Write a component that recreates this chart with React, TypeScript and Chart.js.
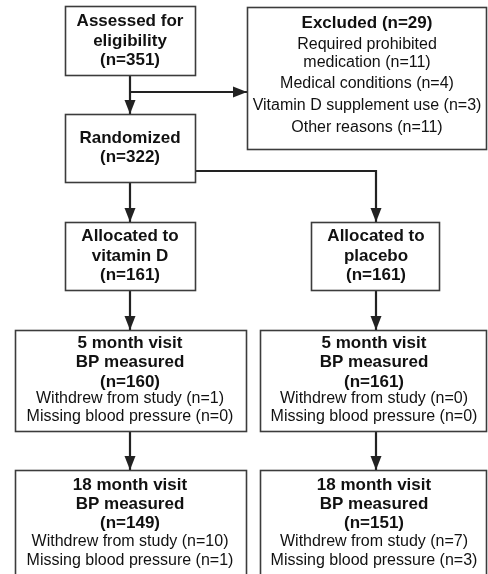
import { useEffect, useRef } from "react";
import { Chart, registerables } from "chart.js";
Chart.register(...registerables);

const W = 488;
const H = 574;

// Flow boxes (data coordinates of the diagram space)
const boxLeft = [65, 247, 65, 65, 311, 15, 260, 15, 260];
const boxRight = [196, 487, 196, 196, 440, 247, 487, 247, 487];
const boxTop = [6, 7, 114, 222, 222, 330, 330, 470, 470];
const boxBottom = [76, 150, 183, 291, 291, 432, 432, 585, 585];

const boxText: string[][] = [
  ["Assessed for", "eligibility", "(n=351)"],
  [
    "Excluded (n=29)",
    "Required prohibited",
    "medication (n=11)",
    "Medical conditions (n=4)",
    "Vitamin D supplement use (n=3)",
    "Other reasons (n=11)",
  ],
  ["Randomized", "(n=322)"],
  ["Allocated to", "vitamin D", "(n=161)"],
  ["Allocated to", "placebo", "(n=161)"],
  ["5 month visit", "BP measured", "(n=160)", "Withdrew from study (n=1)", "Missing blood pressure (n=0)"],
  ["5 month visit", "BP measured", "(n=161)", "Withdrew from study (n=0)", "Missing blood pressure (n=0)"],
  ["18 month visit", "BP measured", "(n=149)", "Withdrew from study (n=10)", "Missing blood pressure (n=1)"],
  ["18 month visit", "BP measured", "(n=151)", "Withdrew from study (n=7)", "Missing blood pressure (n=3)"],
];
const boxBoldCount = [3, 1, 2, 3, 3, 3, 3, 3, 3];
const textCenterX = [130, 367, 130, 130, 376, 130, 374, 130, 374];
const textLineY: number[][] = [
  [21, 41, 60],
  [23, 45, 63, 84, 106, 128],
  [138, 157],
  [236, 256, 275],
  [236, 256, 275],
  [343, 362, 382, 399, 417],
  [343, 362, 382, 399, 417],
  [485, 504, 523, 542, 561],
  [485, 504, 523, 542, 561],
];

// Connector arrows (polyline points; arrowhead at last point)
const connectorX: number[][] = [
  [130, 130],
  [130, 247],
  [196, 376, 376],
  [130, 130],
  [130, 130],
  [376, 376],
  [130, 130],
  [376, 376],
];
const connectorY: number[][] = [
  [76, 114],
  [92, 92],
  [171, 171, 222],
  [183, 222],
  [291, 330],
  [291, 330],
  [432, 470],
  [432, 470],
];

const LINE_COLOR = "#222222";
const BOX_COLOR = "#3c3c3c";
const TEXT_COLOR = "#111111";
const FONT = '"Liberation Sans", Arial, sans-serif';

const flowPlugin = {
  id: "flow",
  afterDatasetsDraw(chart: any) {
    const ctx = chart.ctx as CanvasRenderingContext2D;
    const xs = chart.scales.x;
    const ys = chart.scales.y;
    ctx.save();
    // boxes
    for (let i = 0; i < boxLeft.length; i++) {
      const x0 = xs.getPixelForValue(boxLeft[i]);
      const x1 = xs.getPixelForValue(boxRight[i]);
      const y0 = ys.getPixelForValue(boxTop[i]);
      const y1 = ys.getPixelForValue(boxBottom[i]);
      ctx.fillStyle = "#ffffff";
      ctx.fillRect(x0, y0, x1 - x0, y1 - y0);
      ctx.strokeStyle = BOX_COLOR;
      ctx.lineWidth = 1.6;
      ctx.strokeRect(x0 + 0.5, y0 + 0.5, x1 - x0 - 1, y1 - y0 - 1);
    }
    // arrowheads
    for (let c = 0; c < connectorX.length; c++) {
      const n = connectorX[c].length;
      const tx = xs.getPixelForValue(connectorX[c][n - 1]);
      const ty = ys.getPixelForValue(connectorY[c][n - 1]);
      const px = xs.getPixelForValue(connectorX[c][n - 2]);
      const py = ys.getPixelForValue(connectorY[c][n - 2]);
      const ang = Math.atan2(ty - py, tx - px);
      const len = 14;
      const half = 5.5;
      ctx.fillStyle = LINE_COLOR;
      ctx.beginPath();
      ctx.moveTo(tx, ty);
      ctx.lineTo(tx - len * Math.cos(ang) - half * Math.sin(ang), ty - len * Math.sin(ang) + half * Math.cos(ang));
      ctx.lineTo(tx - len * Math.cos(ang) + half * Math.sin(ang), ty - len * Math.sin(ang) - half * Math.cos(ang));
      ctx.closePath();
      ctx.fill();
    }
    // text
    ctx.fillStyle = TEXT_COLOR;
    ctx.textAlign = "center";
    ctx.textBaseline = "middle";
    for (let i = 0; i < boxText.length; i++) {
      const cx = xs.getPixelForValue(textCenterX[i]);
      boxText[i].forEach((line, j) => {
        const bold = j < boxBoldCount[i];
        ctx.font = bold ? `bold 17px ${FONT}` : `16px ${FONT}`;
        ctx.fillText(line, cx, ys.getPixelForValue(textLineY[i][j]));
      });
    }
    ctx.restore();
  },
};

export default function App() {
  const ref = useRef<HTMLCanvasElement | null>(null);
  useEffect(() => {
    if (!ref.current) return;
    const datasets = connectorX.map((xsArr, c) => ({
      data: xsArr.map((x, k) => ({ x, y: connectorY[c][k] })),
      showLine: true,
      borderColor: LINE_COLOR,
      borderWidth: 2.2,
      pointRadius: 0,
      fill: false,
      tension: 0,
      clip: false as any,
    }));
    const chart = new Chart(ref.current, {
      type: "scatter",
      data: { datasets },
      options: {
        animation: false,
        responsive: false,
        devicePixelRatio: 1,
        events: [],
        layout: { padding: 0 },
        plugins: { legend: { display: false }, tooltip: { enabled: false } },
        scales: {
          x: { type: "linear", min: 0, max: W, display: false },
          y: { type: "linear", min: 0, max: H, reverse: true, display: false },
        },
      },
      plugins: [flowPlugin],
    });
    return () => chart.destroy();
  }, []);
  return (
    <div style={{ position: "absolute", left: 0, top: 0, width: W, height: H, background: "#fff" }}>
      <canvas ref={ref} width={W} height={H} style={{ display: "block", width: W, height: H }} />
    </div>
  );
}
